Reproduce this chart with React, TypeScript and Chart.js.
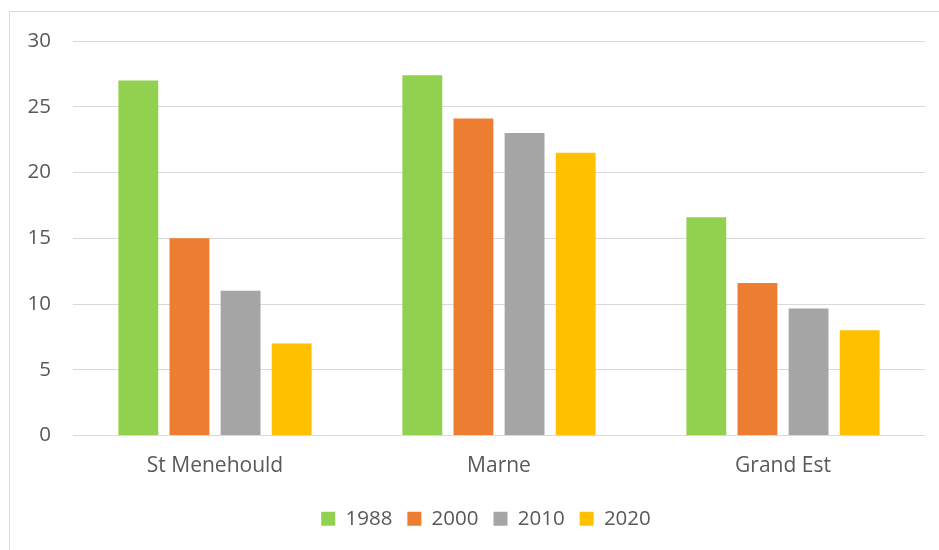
import React, { useEffect, useRef } from "react";
import { Chart, registerables } from "chart.js";

Chart.register(...registerables);

const categories = ["St Menehould", "Marne", "Grand Est"];
const seriesLabels = ["1988", "2000", "2010", "2020"];
const v1988 = [27, 27.4, 16.6];
const v2000 = [15, 24.1, 11.6];
const v2010 = [11, 23, 9.65];
const v2020 = [7, 21.5, 8];
const seriesValues = [v1988, v2000, v2010, v2020];
const seriesColors = ["#92D050", "#ED7D31", "#A5A5A5", "#FFC000"];
const yMin = 0;
const yMax = 30;
const yStep = 5;

const FAMILY = "'Open Sans', 'Liberation Sans', sans-serif";
const TEXT = "#595959";
const GRID = "#D9D9D9";

const legendShift = {
  id: "legendShift",
  afterLayout(chart: any) {
    const lg = chart.legend;
    if (lg) {
      lg.left += 47;
    }
  },
};

export default function App() {
  const ref = useRef<HTMLCanvasElement | null>(null);

  useEffect(() => {
    if (!ref.current) return;
    const chart = new Chart(ref.current, {
      type: "bar",
      data: {
        labels: categories,
        datasets: seriesLabels.map((label, i) => ({
          label,
          data: seriesValues[i],
          backgroundColor: seriesColors[i],
          borderWidth: 0,
          categoryPercentage: 0.72,
          barPercentage: 0.78,
        })),
      },
      plugins: [legendShift],
      options: {
        animation: false,
        responsive: false,
        maintainAspectRatio: false,
        layout: { padding: { left: 0, right: 14, top: 41, bottom: 11 } },
        plugins: {
          legend: {
            position: "bottom",
            labels: {
              boxWidth: 14,
              boxHeight: 14,
              padding: 15,
              color: TEXT,
              font: { family: FAMILY, size: 20.5 },
            },
          },
          tooltip: { enabled: false },
        },
        scales: {
          x: {
            grid: { display: false, drawTicks: false },
            border: { display: false },
            ticks: { color: TEXT, font: { family: FAMILY, size: 21 }, padding: 18 },
            afterFit: (s: any) => {
              s.height = 58;
            },
          },
          y: {
            min: yMin,
            max: yMax,
            grid: { color: GRID, lineWidth: 1, drawTicks: false },
            border: { display: false },
            ticks: { stepSize: yStep, color: TEXT, font: { family: FAMILY, size: 20.5 }, padding: 22 },
            afterFit: (s: any) => {
              s.width = 73;
            },
          },
        },
      },
    });
    return () => chart.destroy();
  }, []);

  return (
    <div
      style={{
        position: "fixed",
        left: 0,
        top: 0,
        width: 939,
        height: 550,
        overflow: "hidden",
        background: "#fff",
      }}
    >
      <div
        style={{
          position: "absolute",
          left: 9,
          top: 11,
          width: 1000,
          height: 1000,
          border: "1px solid #D9D9D9",
        }}
      />
      <canvas
        ref={ref}
        width={939}
        height={550}
        style={{ position: "absolute", left: 0, top: 0, width: 939, height: 550 }}
      />
    </div>
  );
}
